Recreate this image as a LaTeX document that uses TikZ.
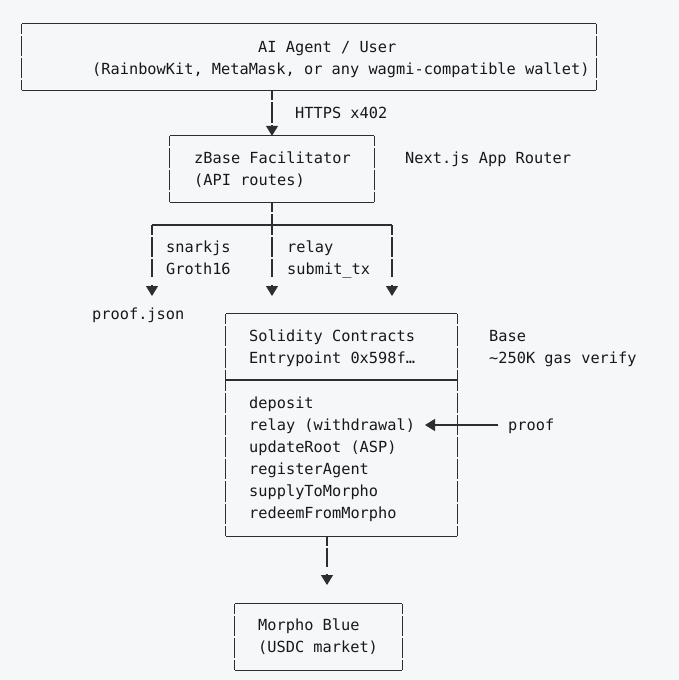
\documentclass[tikz,border=0pt]{standalone}
\usepackage{fontspec}
\newfontfamily\mono{DejaVu Sans Mono}
\usetikzlibrary{arrows.meta}
\definecolor{bg}{HTML}{F6F7F9}
\definecolor{ink}{HTML}{15181C}
\definecolor{lin}{HTML}{2E2E2E}
\newcommand\frameit[1]{%
  \draw[conn] (#1.north west) -- (#1.north east);
  \draw[conn] (#1.south west) -- (#1.south east);
  \draw[vside] (#1.north west) -- (#1.south west);
  \draw[vside] (#1.north east) -- (#1.south east);}
\begin{document}
\begin{tikzpicture}[x=1pt,y=-1pt,
  box/.style={inner sep=0pt},
  txt/.style={anchor=base west, inner sep=0pt, text=ink, font=\mono\fontsize{15.3}{18}\selectfont},
  conn/.style={draw=lin, line width=1.3pt},
  vside/.style={conn, dash pattern=on 20.2pt off 2pt, dash phase=10pt},
  arr/.style={conn, -{Triangle[length=10pt,width=12pt]}}]
\path[fill=bg, use as bounding box] (0,0) rectangle (679,680);

% boxes
\node[box, minimum width=574pt, minimum height=66pt] (agent) at (309,57) {};
\node[box, minimum width=204pt, minimum height=66pt] (fac) at (272,169) {};
\node[box, minimum width=231pt, minimum height=222pt] (sol) at (341.5,425) {};
\node[box, minimum width=167pt, minimum height=66pt] (mor) at (318.5,637) {};
\frameit{agent}
\frameit{fac}
\frameit{sol}
\frameit{mor}
\draw[conn] (sol.west |- 0,380) -- (sol.east |- 0,380);

% texts
\node[txt] (t1) at (258,52) {AI Agent / User};
\node[txt] (t2) at (92,74) {(RainbowKit, MetaMask, or any wagmi-compatible wallet)};
\node[txt] (https) at (295,118) {HTTPS x402};
\node[txt] (f1) at (194,163) {zBase Facilitator};
\node[txt] (f2) at (194,185) {(API routes)};
\node[txt] (nx) at (405,163) {Next.js App Router};
\node[txt] (s1) at (166,252) {snarkjs};
\node[txt] (s2) at (166,274) {Groth16};
\node[txt] (r1) at (287,252) {relay};
\node[txt] (r2) at (287,274) {submit\_tx};
\node[txt] (pj) at (92,319) {proof.json};
\node[txt] (c1) at (249,341) {Solidity Contracts};
\node[txt] (c2) at (249,363) {Entrypoint 0x598f…};
\node[txt] (b1) at (489,341) {Base};
\node[txt] (b2) at (489,363) {\textasciitilde250K gas verify};
\node[txt] (m1) at (249,408) {deposit};
\node[txt] (m2) at (249,430) {relay (withdrawal)};
\node[txt] (m3) at (249,452) {updateRoot (ASP)};
\node[txt] (m4) at (249,474) {registerAgent};
\node[txt] (m5) at (249,496) {supplyToMorpho};
\node[txt] (m6) at (249,518) {redeemFromMorpho};
\node[txt] (proof) at (508,430) {proof};
\node[txt] (mb1) at (258,630) {Morpho Blue};
\node[txt] (mb2) at (258,652) {(USDC market)};

% connectors
\coordinate (ta) at (272,123);
\coordinate (ta0) at (272,125);
\draw[vside] (fac.north |- agent.south) -- (ta);
\draw[arr] (ta0) -- (fac.north);
\coordinate (bm) at (272,225);
\coordinate (bl) at (152,225);
\coordinate (br) at (392,225);
\draw[vside] (fac.south) -- (bm);
\draw[conn] (bl) -- (br);
\coordinate (el) at (152,277);
\coordinate (em) at (272,277);
\coordinate (er) at (392,277);
\draw[vside] (bl) -- (el);
\draw[vside] (bm) -- (em);
\draw[vside] (br) -- (er);
\coordinate (tl0) at (152,285);
\coordinate (tm0) at (272,285);
\coordinate (tr0) at (392,285);
\coordinate (tl) at (152,296);
\coordinate (tm) at (272,296);
\coordinate (tr) at (392,296);
\draw[arr] (tl0) -- (tl);
\draw[arr] (tm0) -- (tm);
\draw[arr] (tr0) -- (tr);
\coordinate (ps) at (498,425);
\coordinate (pt) at (425,425);
\draw[arr] (ps) -- (pt);
\coordinate (me) at (327,567);
\coordinate (mt0) at (327,574);
\coordinate (mt) at (327,585);
\draw[vside] (sol.south -| me) -- (me);
\draw[arr] (mt0) -- (mt);
\end{tikzpicture}
\end{document}
